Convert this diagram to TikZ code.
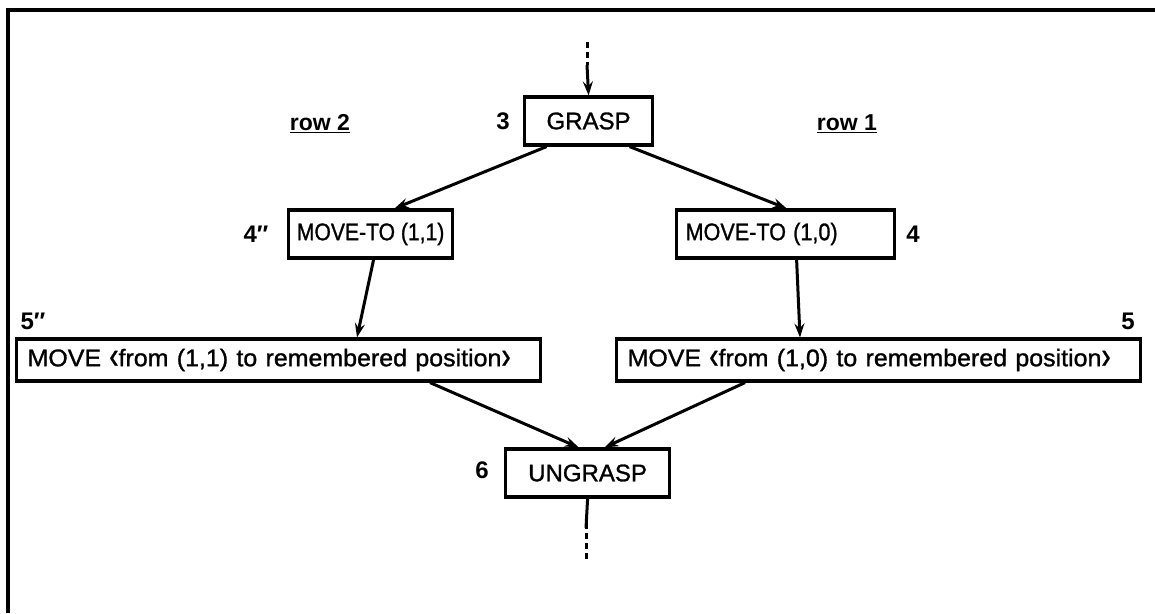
\documentclass[tikz,border=0pt]{standalone}
\usepackage{fontspec}
\setmainfont{Liberation Sans}
\newfontfamily\boxfont{Liberation Sans}[FakeBold=1.2]
\usetikzlibrary{arrows.meta,calc}
% tall angle brackets set from the text font
\newcommand\lbrk{\raisebox{-0.09em}{\scalebox{1.1}[1.6]{‹}}}
\newcommand\rbrk{\raisebox{-0.09em}{\scalebox{1.1}[1.6]{›}}}
\begin{document}
\begin{tikzpicture}[x=1pt,y=-1pt,
  every node/.style={font=\boxfont\fontsize{24}{28}\selectfont},
  stepbox/.style={draw,line width=3.2pt,minimum height=48pt,inner sep=0pt,anchor=west},
  longbox/.style={stepbox,minimum height=42pt,minimum width=524pt,text width=510pt,align=left},
  tag/.style={font=\fontsize{24}{28}\selectfont\bfseries},
  flow/.style={line width=3pt,-{Stealth[length=14pt,width=10pt,inset=5pt]}},
  dots/.style={line width=3pt,dash pattern=on 6pt off 4pt}]
\useasboundingbox (0,0) rectangle (1155,613);
% outer frame
\draw[line width=3.2pt] (8,613) -- (8,10) -- (1155,10);

% boxes
\node[stepbox,minimum width=128pt] (grasp) at (523,121) {GRASP};
\node[stepbox,minimum width=164pt] (mt11) at (287,234) {\scalebox{0.88}[1]{MOVE-TO (1,1)}};
\node[stepbox,minimum width=218pt,text width=210pt,align=left] (mt10) at (675,234) {\hspace*{5pt}\scalebox{0.9}[1]{MOVE-TO (1,0)}};
\node[longbox] (mv11) at (15,360) {\hspace*{4pt}\scalebox{1.04}[1]{MOVE \lbrk from (1,1) to remembered position\rbrk}};
\node[longbox] (mv10) at (615,360) {\hspace*{4pt}\scalebox{1.04}[1]{MOVE \lbrk from (1,0) to remembered position\rbrk}};
\node[stepbox,minimum width=164pt] (ungrasp) at (504,473) {UNGRASP};

% step numbers
\node[tag] at (503,121) {3};
\node[tag] at (256,234) {4″};
\node[tag] at (913,234) {4};
\node[tag] at (33,321) {5″};
\node[tag] at (1128,321) {5};
\node[tag] at (482,470) {6};

% branch labels
\node[font=\fontsize{23}{26}\selectfont\bfseries] (r2) at (320,124) {\underline{row 2}};
\node[font=\fontsize{23}{26}\selectfont\bfseries] (r1) at (847,124) {\underline{row 1}};

% entry and exit
\coordinate (in0) at (587,42);
\coordinate (in1) at (587,65);
\draw[dots] (in0) -- (in1);
\draw[flow] (in1) -- (grasp.north);
\coordinate (out1) at (586,528);
\coordinate (out2) at (586,560);
\draw[line width=3pt] (ungrasp.south) -- (out1);
\draw[dots] ([yshift=5pt]out1) -- (out2);

% connectors
\draw[flow] ([xshift=-42pt]grasp.south) -- ([xshift=24pt]mt11.north);
\draw[flow] ([xshift=41pt]grasp.south) -- ([xshift=1pt]mt10.north);
\draw[flow] ([xshift=3pt]mt11.south) -- ([xshift=342pt]mv11.north west);
\draw[flow] ([xshift=11pt]mt10.south) -- ([xshift=185pt]mv10.north west);
\draw[flow] ([xshift=415pt]mv11.south west) -- ([xshift=-9pt]ungrasp.north);
\draw[flow] ([xshift=130pt]mv10.south west) -- ([xshift=17pt]ungrasp.north);
\end{tikzpicture}
\end{document}
